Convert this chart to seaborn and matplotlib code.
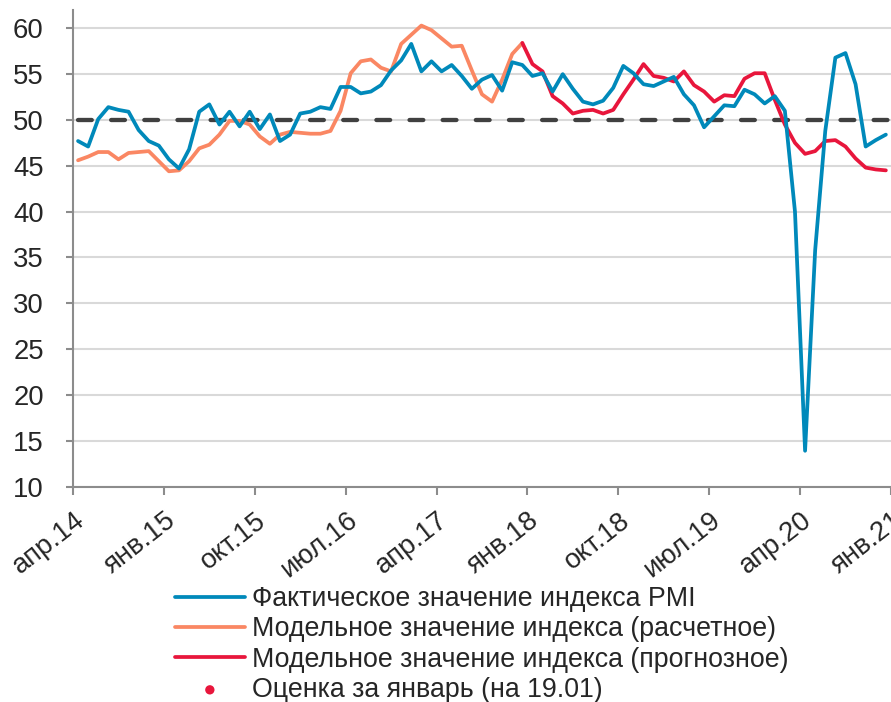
import numpy as np
import pandas as pd
import matplotlib
matplotlib.use("Agg")
import matplotlib.pyplot as plt
import matplotlib.transforms as mtransforms
import seaborn as sns

# ---------------- data ----------------
tick_labels = ["апр.14", "янв.15", "окт.15", "июл.16", "апр.17",
               "янв.18", "окт.18", "июл.19", "апр.20", "янв.21"]

# actual PMI, monthly from Apr-2014 to Dec-2020
pmi_actual = [47.7, 47.1, 50.1, 51.4, 51.1, 50.9, 48.9, 47.7, 47.2, 45.7,
              44.7, 46.8, 50.9, 51.7, 49.5, 50.9, 49.3, 50.9, 49.0, 50.6,
              47.7, 48.4, 50.7, 50.9, 51.4, 51.2, 53.6, 53.6, 52.9, 53.1,
              53.8, 55.4, 56.5, 58.3, 55.3, 56.4, 55.3, 56.0, 54.8, 53.4,
              54.4, 54.9, 53.2, 56.3, 56.0, 54.8, 55.1, 53.1, 55.0, 53.4,
              52.0, 51.7, 52.1, 53.5, 55.9, 55.1, 53.9, 53.7, 54.2, 54.7,
              52.8, 51.6, 49.2, 50.4, 51.6, 51.5, 53.3, 52.8, 51.8, 52.6,
              51.0, 40.0, 13.9, 35.8, 48.8, 56.8, 57.3, 53.9, 47.1, 47.8,
              48.4]

# model estimate (in-sample), Apr-2014 .. Dec-2017
model_fit = [45.6, 46.0, 46.5, 46.5, 45.7, 46.4, 46.5, 46.6, 45.5, 44.4,
             44.5, 45.5, 46.9, 47.3, 48.4, 49.9, 49.9, 49.5, 48.2, 47.4,
             48.4, 48.7, 48.6, 48.5, 48.5, 48.8, 51.0, 55.1, 56.4, 56.6,
             55.7, 55.3, 58.3, 59.3, 60.3, 59.8, 58.9, 58.0, 58.1, 55.4,
             52.8, 52.0, 54.4, 57.2, 58.4]

# model forecast, Dec-2017 .. Dec-2020
model_fc = [58.4, 56.1, 55.3, 52.6, 51.8, 50.7, 51.0, 51.1, 50.7, 51.1,
            52.8, 54.4, 56.1, 54.8, 54.6, 54.2,
            55.3, 53.8, 53.1, 52.0, 52.7, 52.6, 54.5, 55.1, 55.1, 52.2,
            49.5, 47.5, 46.3, 46.6, 47.7, 47.8, 47.1, 45.8, 44.8, 44.6,
            44.5]

jan_estimate = [44.4]
threshold = 50

labels = ["Фактическое значение индекса PMI",
          "Модельное значение индекса (расчетное)",
          "Модельное значение индекса (прогнозное)",
          "Оценка за январь (на 19.01)"]

# ---------------- styling ----------------
BLUE = "#0089ba"
ORANGE = "#fa8763"
RED = "#e8163c"
GRID = "#d9d9d9"
AXIS = "#8c8c8c"
FS = 19.8
LFS = 19.3

sns.set_style("white")
plt.rcParams["font.family"] = ["Liberation Sans", "DejaVu Sans"]

df_act = pd.DataFrame({"m": np.arange(len(pmi_actual)), "v": pmi_actual})
df_fit = pd.DataFrame({"m": np.arange(len(model_fit)), "v": model_fit})
start_fc = len(model_fit) - 1
df_fc = pd.DataFrame({"m": np.arange(start_fc, start_fc + len(model_fc)), "v": model_fc})
df_jan = pd.DataFrame({"m": [start_fc + len(model_fc)], "v": jan_estimate})

fig = plt.figure(figsize=(8.91, 7.02), dpi=100)
ax = fig.add_axes([73 / 891, 1 - 486.5 / 702, 828 / 891, (486.5 - 10) / 702])

ax.plot([df_act["m"].iloc[0], df_jan["m"].iloc[0]], [threshold, threshold],
        color="#404040", lw=3.1, dashes=(3.2, 4.5), dash_capstyle="round", zorder=2)

LW = 2.7
sns.lineplot(data=df_act, x="m", y="v", ax=ax, color=BLUE, lw=LW, label=labels[0], zorder=4)
sns.lineplot(data=df_fit, x="m", y="v", ax=ax, color=ORANGE, lw=LW, label=labels[1], zorder=3)
sns.lineplot(data=df_fc, x="m", y="v", ax=ax, color=RED, lw=LW, label=labels[2], zorder=3)
sns.scatterplot(data=df_jan, x="m", y="v", ax=ax, color=RED, s=45, edgecolor="none",
                label=labels[3], zorder=5, clip_on=False)

ax.set_xlim(-0.5, 81.5)
ax.set_ylim(10, 62)
ax.set_yticks(np.arange(10, 61, 5))
ax.set_xticks(np.arange(-0.5, 81, 9))
ax.set_xticklabels(tick_labels)
ax.set_xlabel("")
ax.set_ylabel("")

ax.yaxis.grid(True, color=GRID, lw=1.5)
ax.xaxis.grid(False)
for s in ["top", "right"]:
    ax.spines[s].set_visible(False)
for s in ["left", "bottom"]:
    ax.spines[s].set_color(AXIS)
    ax.spines[s].set_linewidth(1.5)

ax.tick_params(axis="y", length=5, width=1.5, color=AXIS, labelsize=FS, pad=16, left=True)
ax.tick_params(axis="x", length=6, width=1.5, color=AXIS, labelsize=FS, pad=9, bottom=True)

offset = mtransforms.ScaledTranslation(0.5 / 100, 0, fig.dpi_scale_trans)
for lab in ax.get_xticklabels():
    lab.set_rotation(38)
    lab.set_ha("right")
    lab.set_va("top")
    lab.set_rotation_mode("anchor")
    lab.set_transform(lab.get_transform() + offset)

handles, labs = ax.get_legend_handles_labels()
ax.get_legend().remove()
fig.legend(handles, labs, loc="upper left", bbox_to_anchor=(175 / 891, 1 - 586 / 702),
           frameon=False, fontsize=LFS, handlelength=2.6, handletextpad=0.28,
           labelspacing=0.16, borderpad=0, borderaxespad=0)

fig.savefig("out.png", dpi=100)
